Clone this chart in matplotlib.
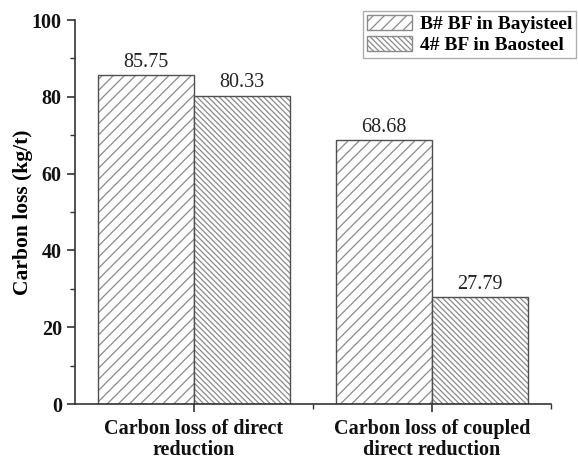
import matplotlib
matplotlib.use("Agg")
import matplotlib.pyplot as plt
import numpy as np
from matplotlib.ticker import MultipleLocator
from matplotlib.patches import Patch

plt.rcParams['font.family'] = ['Liberation Serif', 'DejaVu Serif']
plt.rcParams['hatch.linewidth'] = 0.9

categories = ["Carbon loss of direct\nreduction", "Carbon loss of coupled\ndirect reduction"]
series_names = ["B# BF in Bayisteel", "4# BF in Baosteel"]
bayisteel = [85.75, 68.68]
baosteel = [80.33, 27.79]

fig = plt.figure(figsize=(5.78, 4.59), dpi=100)
ax = fig.add_axes([75 / 578, 1 - 404 / 459, 476 / 578, 384 / 459])

x = np.arange(1, len(categories) + 1)
w = 0.405
hatch_col = '#8a8a8a'
edge_col = '#505050'
hatches = ['///', '\\\\\\\\\\\\']
styles = [(hatches[0], bayisteel, -w / 2), (hatches[1], baosteel, w / 2)]
for hatch, vals, off in styles:
    # hatch layer in light grey, outline drawn on top in darker grey
    ax.bar(x + off, vals, w, facecolor='white', edgecolor=hatch_col,
           hatch=hatch, linewidth=0)
    bars = ax.bar(x + off, vals, w, facecolor='none', edgecolor=edge_col,
                  linewidth=1.0)
    for r, v in zip(bars, vals):
        ax.text(r.get_x() + r.get_width() / 2, v + 0.8, f"{v:.2f}",
                ha='center', va='bottom', fontsize=14.5, color='#222222')

ax.set_xlim(0.5, 2.5)
ax.set_ylim(0, 100)
ax.set_xticks(x)
ax.set_xticklabels(categories, fontsize=14.5, fontweight='bold', linespacing=1.05)
ax.set_xticks([1.5, 2.5], minor=True)
ax.yaxis.set_major_locator(MultipleLocator(20))
ax.yaxis.set_minor_locator(MultipleLocator(10))
for lab in ax.get_yticklabels():
    lab.set_fontweight('bold')
    lab.set_fontsize(14.5)
ax.tick_params(axis='both', which='major', direction='out', length=6, width=1.2, colors='#333333')
ax.tick_params(axis='both', which='minor', direction='out', length=3.5, width=1.0, colors='#333333')
ax.tick_params(axis='both', labelcolor='#111111')
ax.tick_params(axis='x', which='major', pad=5)
ax.set_ylabel("Carbon loss (kg/t)", fontsize=15.5, fontweight='bold')
ax.yaxis.set_label_coords(-0.088, 0.5)
for s in ('top', 'right'):
    ax.spines[s].set_visible(False)
for s in ('left', 'bottom'):
    ax.spines[s].set_linewidth(1.2)
    ax.spines[s].set_color('#333333')

handles = [Patch(facecolor='white', edgecolor=hatch_col, hatch=h, linewidth=1.0)
           for h in hatches]
leg = fig.legend(handles, series_names, loc='upper right',
                 bbox_to_anchor=(576 / 578, 1 - 11 / 459), bbox_transform=fig.transFigure,
                 prop={'weight': 'bold', 'size': 14},
                 frameon=True, fancybox=False, edgecolor='#999999', handlelength=2.3,
                 handleheight=0.8, handletextpad=0.4, borderpad=0.2, labelspacing=0.15,
                 borderaxespad=0)
leg.get_frame().set_linewidth(1.0)

fig.savefig("out.png", dpi=100, facecolor='white')
